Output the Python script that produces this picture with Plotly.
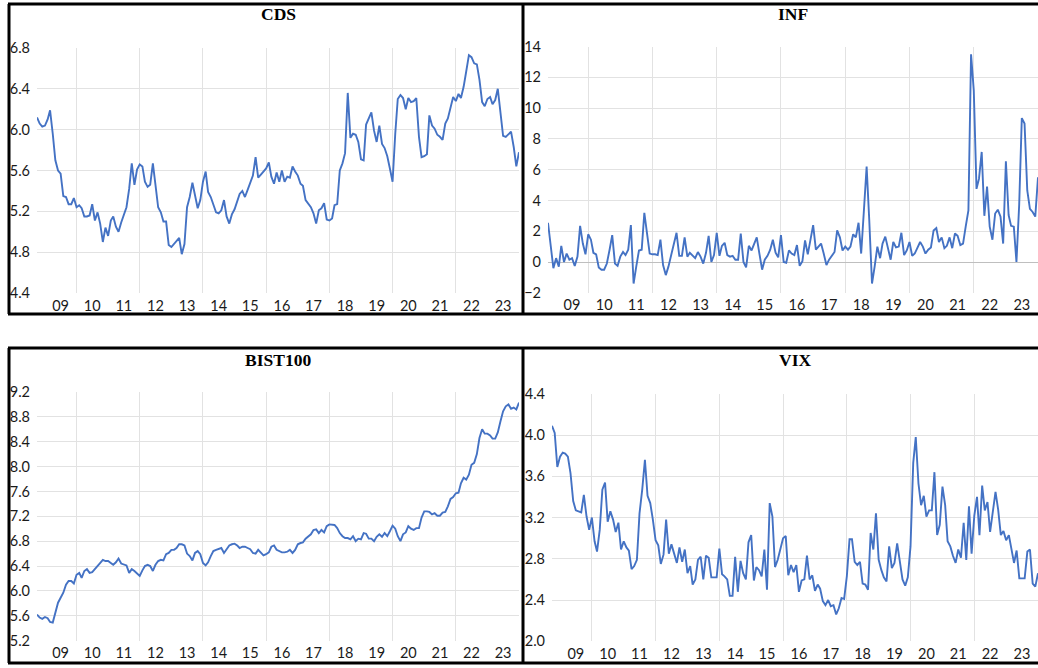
import pandas as pd
import plotly.graph_objects as go

# ---------------- data (monthly, Oct 2008 onward) ----------------
cds = [6.12,6.06,6.03,6.04,6.10,6.19,5.96,5.70,5.60,5.57,
       5.35,5.34,5.27,5.27,5.33,5.24,5.26,5.23,5.15,5.15,
       5.16,5.27,5.11,5.19,5.08,4.90,5.04,4.96,5.11,5.15,
       5.05,5.00,5.09,5.17,5.24,5.42,5.67,5.46,5.61,5.66,
       5.64,5.49,5.44,5.46,5.67,5.46,5.24,5.19,5.10,5.10,
       4.87,4.85,4.88,4.91,4.94,4.78,4.88,5.24,5.34,5.48,
       5.36,5.23,5.31,5.49,5.59,5.39,5.34,5.26,5.19,5.18,
       5.21,5.31,5.15,5.08,5.17,5.22,5.31,5.37,5.40,
       5.34,5.41,5.47,5.55,5.73,5.53,5.56,5.59,5.62,5.68,
       5.54,5.47,5.58,5.49,5.60,5.49,5.54,5.53,5.64,5.59,
       5.55,5.47,5.45,5.31,5.28,5.24,5.18,5.08,5.21,5.23,
       5.28,5.12,5.11,5.13,5.26,5.27,5.60,5.67,5.77,6.36,
       5.92,5.96,5.95,5.88,5.71,5.70,6.05,6.11,6.17,5.99,
       5.88,6.04,5.86,5.82,5.74,5.62,5.49,5.96,6.30,6.34,
       6.31,6.20,6.31,6.27,6.28,6.31,5.93,5.73,5.74,5.76,
       6.14,6.04,6.01,5.95,5.93,5.90,6.06,6.11,6.22,6.32,
       6.28,6.35,6.31,6.42,6.57,6.73,6.71,6.65,6.64,6.49,
       6.27,6.23,6.30,6.32,6.25,6.29,6.40,6.16,5.94,5.93,
       5.96,5.98,5.83,5.64,5.78]

inf = [2.55,0.9,-0.4,0.25,-0.3,1.05,0.0,0.55,0.15,0.25,
       -0.25,0.35,2.35,1.2,0.5,1.8,1.45,0.6,0.5,-0.35,
       -0.5,-0.5,-0.1,0.8,1.75,-0.1,-0.25,0.35,0.65,0.45,
       0.8,2.4,-1.4,-0.3,0.75,0.8,3.2,1.85,0.55,0.5,
       0.5,0.45,1.45,-0.2,-0.85,-0.3,0.45,1.0,1.9,0.4,
       0.4,1.6,0.35,0.6,0.45,0.25,0.65,0.35,-0.1,0.6,
       1.7,0.0,0.45,1.9,0.4,1.05,1.25,0.45,0.35,0.4,
       0.15,0.15,1.85,0.0,-0.35,1.05,0.75,1.2,1.6,0.55,
       -0.5,0.15,0.4,0.8,1.45,0.6,0.3,1.75,0.0,-0.05,
       0.75,0.55,0.45,1.1,-0.25,0.05,1.4,0.5,1.45,2.4,
       0.8,1.0,1.2,0.55,-0.2,0.15,0.4,0.65,2.05,1.6,
       0.75,1.0,0.8,1.0,1.8,1.6,2.55,0.55,3.35,6.2,
       2.7,-1.4,-0.3,1.0,0.25,1.2,1.65,1.0,0.15,1.3,
       0.95,1.0,1.9,0.45,0.75,1.3,0.4,0.55,0.9,1.3,
       1.0,0.55,0.8,0.95,2.05,2.2,1.3,1.6,0.9,1.05,
       1.6,0.9,1.85,1.7,1.1,1.2,2.3,3.35,13.5,11.15,
       4.75,5.4,7.15,3.0,4.9,2.3,1.45,3.15,3.4,2.95,
       1.2,6.55,3.05,2.35,2.3,0.0,3.7,9.35,9.0,4.65,
       3.45,3.25,2.95,5.5]

bist100 = [5.62,5.57,5.55,5.58,5.56,5.50,5.49,5.65,5.81,5.89,
           5.97,6.10,6.16,6.16,6.12,6.26,6.29,6.21,6.32,6.35,
           6.29,6.30,6.35,6.39,6.44,6.50,6.48,6.48,6.45,6.42,
           6.46,6.52,6.44,6.42,6.41,6.29,6.35,6.32,6.28,6.24,
           6.33,6.40,6.42,6.40,6.32,6.42,6.48,6.50,6.49,6.59,
           6.61,6.66,6.66,6.69,6.75,6.75,6.73,6.60,6.56,6.49,
           6.61,6.64,6.59,6.45,6.41,6.46,6.56,6.64,6.66,6.68,
           6.69,6.61,6.68,6.73,6.75,6.76,6.73,6.69,6.71,6.71,
           6.69,6.67,6.61,6.60,6.66,6.61,6.57,6.59,6.62,6.71,
           6.73,6.66,6.64,6.62,6.62,6.63,6.66,6.61,6.66,6.75,
           6.77,6.78,6.84,6.88,6.91,6.98,6.99,6.93,6.98,6.94,
           7.04,7.07,7.07,7.06,7.01,6.93,6.88,6.85,6.85,6.83,6.88,
           6.80,6.84,6.83,6.93,6.92,6.84,6.84,6.80,6.87,6.91,
           6.87,6.93,6.88,6.96,7.05,7.00,6.88,6.80,6.91,6.94,
           7.04,7.00,6.98,7.01,7.01,7.18,7.28,7.28,7.27,7.23,
           7.25,7.21,7.21,7.26,7.27,7.36,7.48,7.51,7.57,7.58,
           7.73,7.82,7.79,7.87,8.03,8.06,8.20,8.46,8.60,8.53,
           8.53,8.50,8.45,8.45,8.55,8.73,8.89,8.97,9.00,8.93,
           8.95,8.92,9.03]

vix = [4.09,4.02,3.69,3.79,3.83,3.82,3.79,3.63,3.36,3.27,
       3.26,3.25,3.42,3.21,3.08,3.20,2.97,2.87,3.08,3.47,
       3.54,3.16,3.26,3.18,3.06,3.15,2.89,2.97,2.91,2.88,
       2.70,2.73,2.79,3.24,3.47,3.76,3.41,3.34,3.18,2.98,
       2.93,2.75,2.84,3.18,2.85,2.94,2.85,2.76,2.91,2.77,
       2.89,2.66,2.73,2.55,2.60,2.79,2.82,2.60,2.83,2.81,
       2.62,2.62,2.62,2.90,2.65,2.63,2.60,2.44,2.44,2.82,
       2.48,2.78,2.66,2.60,2.96,3.03,2.59,2.72,2.69,2.63,
       2.89,2.50,3.34,3.21,2.72,2.79,2.89,3.00,3.02,2.64,
       2.74,2.67,2.74,2.48,2.59,2.60,2.83,2.60,2.64,2.49,
       2.55,2.51,2.39,2.35,2.40,2.34,2.35,2.26,2.32,2.42,
       2.41,2.63,2.99,2.99,2.77,2.74,2.77,2.56,2.55,2.50,
       3.05,2.89,3.24,2.79,2.69,2.62,2.58,2.92,2.71,2.76,
       2.95,2.77,2.60,2.54,2.62,2.92,3.73,3.98,3.53,3.32,
       3.41,3.21,3.27,3.27,3.64,3.03,3.13,3.50,3.32,2.97,
       2.92,2.83,2.76,2.89,2.81,3.15,2.79,3.31,2.85,3.22,
       3.40,3.03,3.51,3.27,3.35,3.06,3.27,3.45,3.28,3.03,
       3.07,2.98,3.03,2.90,2.76,2.88,2.61,2.61,2.61,2.87,
       2.89,2.56,2.53,2.66]

start_month = "2008-10-01"
year_labels = ["09","10","11","12","13","14","15","16","17","18","19","20","21","22","23"]
label_dates = [f"20{y}-07-01" for y in year_labels]
grid_dates = [f"{y}-01-01" for y in range(2010, 2025, 2)]

# ---------------- layout geometry (pixels) ----------------
W, H = 1038, 668
LINE = "#4472C4"
GRID = "#e2e2e2"
TICKFONT = dict(family="Lato, 'Open Sans', sans-serif", size=14.5, color="#1a1a1a")
TITLEFONT = dict(family="'Liberation Serif', 'Times New Roman', serif", size=17.5, color="#000")

def fx(px):
    return px / W

def fy(py):
    return 1 - py / H

panels = [
    dict(title="CDS", data=cds, s="", x=(37, 519), y=(48, 293), yr=(4.4, 6.8), t0=4.4, dt=0.4, fmt=".1f", zero=False, ty=14),
    dict(title="INF", data=inf, s="2", x=(548, 1038), y=(46.5, 292.8), yr=(-2, 14), t0=-2, dt=2, fmt="d", zero=True, ty=14),
    dict(title="BIST100", data=bist100, s="3", x=(37, 519), y=(392, 640.6), yr=(5.2, 9.2), t0=5.2, dt=0.4, fmt=".1f", zero=False, ty=360),
    dict(title="VIX", data=vix, s="4", x=(552, 1038), y=(393.8, 641.3), yr=(2.0, 4.4), t0=2.0, dt=0.4, fmt=".1f", zero=False, ty=360),
]

fig = go.Figure()
annotations = []
for p in panels:
    dates = pd.date_range(start_month, periods=len(p["data"]), freq="MS")
    s = p["s"]
    fig.add_trace(go.Scatter(x=dates, y=p["data"], mode="lines",
                             line=dict(color=LINE, width=1.9),
                             xaxis="x" + s, yaxis="y" + s, showlegend=False,
                             hoverinfo="x+y"))
    fig.layout["xaxis" + s] = dict(
        domain=[fx(p["x"][0]), fx(p["x"][1])], anchor="y" + s, type="date",
        range=[dates[0], dates[-1]], tickmode="array", tickvals=label_dates,
        ticktext=year_labels, showgrid=False, zeroline=False, showline=False,
        ticks="", tickfont=TICKFONT, ticklabelstandoff=2, automargin=False,
        minor=dict(tickmode="array", tickvals=grid_dates, showgrid=True,
                   gridcolor=GRID, gridwidth=1, ticks=""),
    )
    fig.layout["yaxis" + s] = dict(
        domain=[fy(p["y"][1]), fy(p["y"][0])], anchor="x" + s,
        range=list(p["yr"]), tickmode="linear", tick0=p["t0"], dtick=p["dt"],
        tickformat=p["fmt"], showgrid=True, gridcolor=GRID, gridwidth=1,
        zeroline=p["zero"], zerolinecolor="#bfbfbf", zerolinewidth=1.3,
        showline=False, ticks="", tickfont=TICKFONT, ticklabelstandoff=6,
        automargin=False,
    )
    annotations.append(dict(text="<b>" + p["title"] + "</b>", xref="paper", yref="paper",
                            x=fx((p["x"][0] + p["x"][1]) / 2), y=fy(p["ty"]),
                            xanchor="center", yanchor="middle", showarrow=False,
                            font=TITLEFONT))

# panel borders
border_h = [(4, 8, 1040), (314, 8, 1040), (348, 8, 1040), (663, 8, 1040)]
border_v = [(9, 4, 314), (523, 4, 314), (9, 348, 663), (523, 348, 663)]
shapes = []
for yy, x0, x1 in border_h:
    shapes.append(dict(type="line", xref="paper", yref="paper",
                       x0=fx(x0), x1=fx(x1), y0=fy(yy), y1=fy(yy),
                       line=dict(color="black", width=3)))
for xx, y0, y1 in border_v:
    shapes.append(dict(type="line", xref="paper", yref="paper",
                       x0=fx(xx), x1=fx(xx), y0=fy(y0), y1=fy(y1),
                       line=dict(color="black", width=3)))

fig.update_layout(width=W, height=H, margin=dict(l=0, r=0, t=0, b=0, pad=0, autoexpand=False),
                  paper_bgcolor="white", plot_bgcolor="white",
                  annotations=annotations, shapes=shapes)

fig.write_html("out.html", config={"displayModeBar": False},
               post_script="document.body.style.margin='0';document.body.style.padding='0';"
                           "document.body.style.overflow='hidden';")
